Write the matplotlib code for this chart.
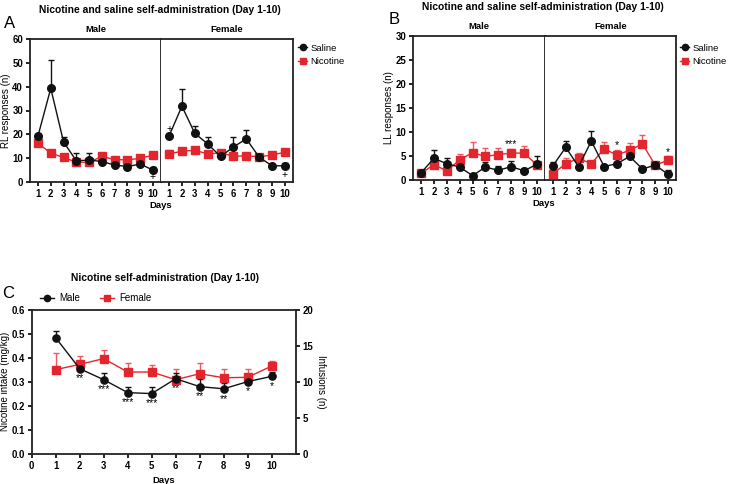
import matplotlib
matplotlib.use("Agg")
import matplotlib.pyplot as plt
import numpy as np
from matplotlib.lines import Line2D

plt.rcParams['font.family'] = ['Liberation Sans', 'DejaVu Sans']

days = list(range(1, 11))

# Panel A: RL responses
A_male_sal = [19.3, 39.3, 16.8, 8.9, 9.2, 8.6, 7.1, 6.5, 7.5, 5.0]
A_male_sal_err = [0.8, 11.9, 2.2, 3.2, 2.9, 0.8, 0.8, 0.7, 0.8, 1.3]
A_male_nic = [16.3, 12.1, 10.3, 8.3, 8.3, 10.7, 9.4, 9.3, 9.9, 11.3]
A_male_nic_err = [0.8, 0.7, 0.6, 0.6, 0.6, 0.8, 0.6, 0.6, 0.7, 0.7]
A_fem_sal = [19.3, 31.8, 20.4, 16.0, 10.7, 14.7, 18.1, 10.4, 6.8, 6.8]
A_fem_sal_err = [1.0, 7.2, 3.2, 2.8, 0.8, 4.1, 3.7, 0.6, 0.6, 1.3]
A_fem_nic = [11.8, 12.9, 13.3, 11.8, 12.2, 10.8, 11.0, 10.6, 11.3, 12.5]
A_fem_nic_err = [1.7, 0.7, 0.8, 0.7, 0.7, 0.6, 0.6, 0.6, 0.6, 0.7]

# Panel B: LL responses
B_male_sal = [1.5, 4.5, 3.4, 2.7, 0.9, 2.7, 2.0, 2.8, 1.9, 3.3]
B_male_sal_err = [0.5, 1.7, 1.1, 0.3, 0.2, 1.1, 1.0, 1.2, 0.5, 1.7]
B_male_nic = [1.4, 3.2, 1.9, 4.2, 5.7, 4.9, 5.3, 5.6, 5.6, 3.1]
B_male_nic_err = [0.5, 1.5, 0.5, 1.2, 2.3, 1.7, 1.3, 0.8, 1.5, 0.6]
B_fem_sal = [3.0, 6.8, 2.8, 8.1, 2.8, 3.4, 4.9, 2.3, 3.1, 1.2]
B_fem_sal_err = [0.8, 1.4, 0.4, 2.2, 0.4, 0.4, 0.4, 0.7, 0.3, 0.8]
B_fem_nic = [1.3, 3.4, 4.5, 3.4, 6.5, 5.2, 6.2, 7.5, 3.1, 4.1]
B_fem_nic_err = [0.3, 1.1, 1.2, 0.3, 1.5, 1.1, 1.5, 1.9, 0.7, 0.8]

# Panel C: nicotine intake
C_male = [0.484, 0.355, 0.309, 0.255, 0.251, 0.313, 0.280, 0.271, 0.301, 0.323]
C_male_err = [0.029, 0.024, 0.029, 0.025, 0.026, 0.025, 0.030, 0.025, 0.012, 0.019]
C_fem = [0.351, 0.373, 0.397, 0.341, 0.341, 0.309, 0.334, 0.317, 0.319, 0.366]
C_fem_err = [0.068, 0.035, 0.036, 0.039, 0.031, 0.044, 0.043, 0.035, 0.033, 0.022]
C_stars = ['', '**', '***', '***', '***', '**', '**', '**', '*', '*']

BLACK = '#111111'
RED = '#e3262d'
RED_ERR = '#ea5a5f'

W, H = 729, 484
fig = plt.figure(figsize=(W / 100, H / 100), dpi=100)

TICK = 6.9
LAB = 7
MS = 5.5


def axpix(x0, y0, x1, y1):
    return fig.add_axes([x0 / W, 1 - y1 / H, (x1 - x0) / W, (y1 - y0) / H])


def style(ax, ysize=TICK):
    for s in ax.spines.values():
        s.set_linewidth(1.3)
        s.set_color('#222222')
    ax.tick_params(width=1.2, length=3, labelsize=ysize, pad=2)
    for lab in ax.get_xticklabels() + ax.get_yticklabels():
        lab.set_fontweight('bold')


def series(ax, y, err, color, ecolor, marker, ms):
    ax.errorbar(days, y, yerr=[np.zeros(len(y)), err], color=color, ecolor=ecolor,
                marker=marker, ms=ms, lw=1.0, elinewidth=1.0, capsize=2.5, capthick=1.0,
                zorder=3)


def split_panel(xl, xm, xr, yt, yb, ymax, ystep, data, ylabel):
    axL = axpix(xl, yt, xm, yb)
    axR = axpix(xm, yt, xr, yb)
    (ms_, ms_e, mn, mn_e, fs, fs_e, fn, fn_e) = data
    for ax, s, se, n, ne in [(axL, ms_, ms_e, mn, mn_e), (axR, fs, fs_e, fn, fn_e)]:
        series(ax, n, ne, RED, RED_ERR, 's', MS)
        series(ax, s, se, BLACK, BLACK, 'o', MS)
        ax.set_xlim(0.375, 10.625)
        ax.set_ylim(0, ymax)
        ax.set_xticks(days)
        ax.set_yticks(np.arange(0, ymax + 0.1, ystep))
        style(ax)
    axR.tick_params(axis='y', left=False, labelleft=False)
    axR.spines['left'].set_visible(False)
    axL.set_ylabel(ylabel, fontsize=LAB, labelpad=1)
    axL.set_title('Male', fontsize=6.8, fontweight='bold', pad=5)
    axR.set_title('Female', fontsize=6.8, fontweight='bold', pad=5)
    return axL, axR


# Panel A
aL, aR = split_panel(30, 161, 293, 39, 182, 60, 10,
                     (A_male_sal, A_male_sal_err, A_male_nic, A_male_nic_err,
                      A_fem_sal, A_fem_sal_err, A_fem_nic, A_fem_nic_err),
                     'RL responses (n)')
aL.text(10, 2.0, '+', ha='center', va='center', fontsize=7.5)
aR.text(10, 2.9, '+', ha='center', va='center', fontsize=7.5)
aR.text(1, 22.2, '+', ha='center', va='center', fontsize=7.5)
fig.text(160 / W, 1 - 10 / H, 'Nicotine and saline self-administration (Day 1-10)',
         ha='center', va='center', fontsize=7.4, fontweight='bold')
fig.text(10 / W, 1 - 23 / H, 'A', ha='center', va='center', fontsize=12)
fig.text(161 / W, 1 - 205 / H, 'Days', ha='center', va='center', fontsize=6.8, fontweight='bold')

# Panel B
bL, bR = split_panel(413, 545, 676, 36, 180, 30, 5,
                     (B_male_sal, B_male_sal_err, B_male_nic, B_male_nic_err,
                      B_fem_sal, B_fem_sal_err, B_fem_nic, B_fem_nic_err),
                     'LL responses (n)')
bL.text(8, 7.4, '***', ha='center', va='center', fontsize=7.5)
bR.text(6, 7.2, '*', ha='center', va='center', fontsize=7.5)
bR.text(10, 5.8, '*', ha='center', va='center', fontsize=7.5)
fig.text(543 / W, 1 - 7 / H, 'Nicotine and saline self-administration (Day 1-10)',
         ha='center', va='center', fontsize=7.4, fontweight='bold')
fig.text(394 / W, 1 - 20 / H, 'B', ha='center', va='center', fontsize=12)
fig.text(544 / W, 1 - 203 / H, 'Days', ha='center', va='center', fontsize=6.8, fontweight='bold')

# Legends A and B
for x0 in (293, 675):
    h = [Line2D([], [], color=BLACK, marker='o', ms=4.5, lw=1.0),
         Line2D([], [], color=RED, marker='s', ms=4.5, lw=1.0)]
    fig.legend(h, ['Saline', 'Nicotine'], loc='upper left',
               bbox_to_anchor=((x0 + 1) / W, 1 - 40 / H), frameon=False,
               fontsize=6.8, handlelength=1.0, handletextpad=0.35, labelspacing=0.45,
               borderaxespad=0)

# Panel C
cx = axpix(31.7, 310, 295.7, 453.7)
series(cx, C_fem, C_fem_err, RED, RED_ERR, 's', 5.2)
series(cx, C_male, C_male_err, BLACK, BLACK, 'o', 5.2)
cx.set_xlim(0, 11)
cx.set_ylim(0, 0.6)
cx.set_xticks(range(0, 11))
cx.set_yticks(np.arange(0, 0.61, 0.1))
cx.set_yticklabels(['%.1f' % v for v in np.arange(0, 0.61, 0.1)])
style(cx)
cx.spines['right'].set_visible(False)
cx.set_ylabel('Nicotine intake (mg/kg)', fontsize=LAB, labelpad=1)
cx.set_xlabel('Days', fontsize=6.8, fontweight='bold', labelpad=4)
for d, v, s in zip(days, C_male, C_stars):
    if s:
        cx.text(d, v - 0.02, s, ha='center', va='top', fontsize=7.5)
cx2 = cx.twinx()
cx2.set_ylim(0, 20)
cx2.set_yticks(range(0, 21, 5))
style(cx2)
for k in ('left', 'top', 'bottom'):
    cx2.spines[k].set_visible(False)
cx2.set_ylabel('Infusions (n)', rotation=270, fontsize=LAB, labelpad=9)
hC = [Line2D([], [], color=BLACK, marker='o', ms=4.5, lw=1.0),
      Line2D([], [], color=RED, marker='s', ms=4.5, lw=1.0)]
cx.legend(hC, ['Male', 'Female'], loc='lower left', ncol=2,
          bbox_to_anchor=(36 / W, 1 - 307 / H), bbox_transform=fig.transFigure,
          frameon=False, fontsize=7, handlelength=1.5, handletextpad=0.5,
          columnspacing=2.0, borderaxespad=0)
fig.text(165 / W, 1 - 278 / H, 'Nicotine self-administration (Day 1-10)',
         ha='center', va='center', fontsize=7.4, fontweight='bold')
fig.text(8 / W, 1 - 293 / H, 'C', ha='center', va='center', fontsize=12)

fig.savefig('out.png', dpi=100)
